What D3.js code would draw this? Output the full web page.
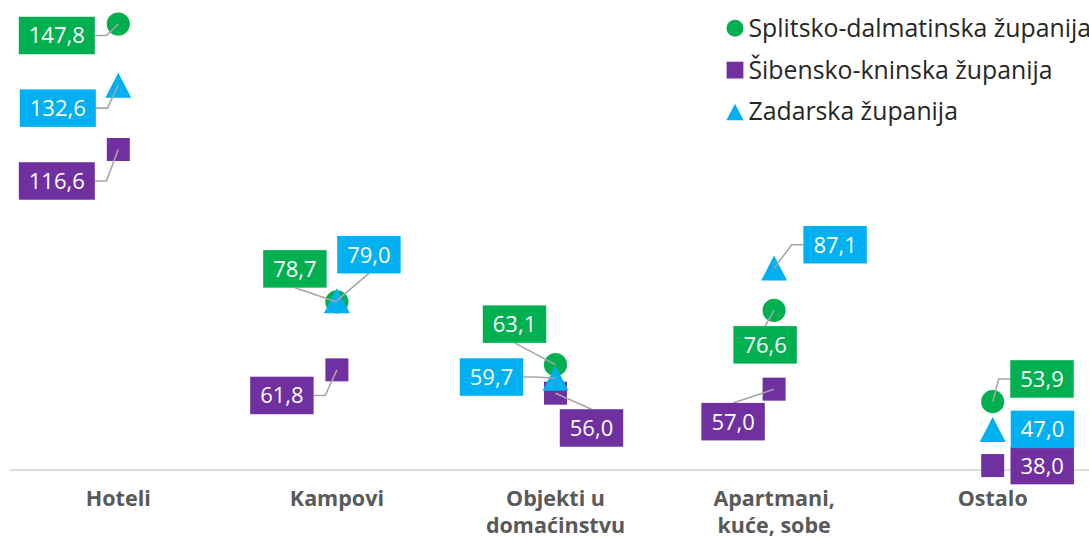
<!DOCTYPE html>
<html><head><meta charset="utf-8">
<script src="https://cdn.jsdelivr.net/npm/d3@7"></script>
<style>
html,body{margin:0;padding:0;background:#fff;overflow:hidden}
svg{display:block;font-family:"Open Sans",sans-serif}
</style>
</head><body>
<svg id="chart" width="1089" height="539"></svg>
<script>
// ---- data ----
const categories = ["Hoteli", "Kampovi", "Objekti u domaćinstvu", "Apartmani, kuće, sobe", "Ostalo"];
const seriesNames = ["Splitsko-dalmatinska županija", "Šibensko-kninska županija", "Zadarska županija"];
const splitValues = [147.8, 78.7, 63.1, 76.6, 53.9];
const sibenikValues = [116.6, 61.8, 56.0, 57.0, 38.0];
const zadarValues = [132.6, 79.0, 59.7, 87.1, 47.0];
const yDomain = [37, 150];

// ---- layout (label box centre offset from marker, leader shown) ----
const splitLabelPos = [[-61.5, 11.5, 1], [-42, -33, 1], [-41, -40.5, 1], [-9, 34.5, 1], [49.3, -22.7, 1]];
const sibenikLabelPos = [[-61.5, 31.5, 1], [-55, 25.6, 1], [36, 34.8, 1], [-41, 32.5, 1], [49.5, 0, 0]];
const zadarLabelPos = [[-60.5, 23, 1], [32, -46, 1], [-64, -1.3, 1], [61, -23.4, 1], [49.8, 0, 0]];

const series = [
  {name: seriesNames[0], values: splitValues, color: "#00B050", shape: "circle", pos: splitLabelPos},
  {name: seriesNames[1], values: sibenikValues, color: "#7030A0", shape: "square", pos: sibenikLabelPos},
  {name: seriesNames[2], values: zadarValues, color: "#00B0F0", shape: "triangle", pos: zadarLabelPos}
];

const W = 1089, H = 539;
const svg = d3.select("#chart");
const x = d3.scaleBand().domain(categories).range([9, 1102]);
const y = d3.scaleLinear().domain(yDomain).range([469.6, 15.15]);
const cx = c => x(c) + x.bandwidth() / 2;
const fmt = v => d3.format(".1f")(v).replace(".", ",");

function shapePath(shape, k) {
  if (shape === "circle") { const r = 11.6 * k; return `M${r},0A${r},${r} 0 1 1 ${-r},0A${r},${r} 0 1 1 ${r},0Z`; }
  if (shape === "square") { const s = 11.5 * k; return `M${-s},${-s}H${s}V${s}H${-s}Z`; }
  const hw = 13 * k, hh = 12.5 * k;
  return `M0,${-hh}L${hw},${hh}L${-hw},${hh}Z`;
}

// ---- axis ----
const axisG = svg.append("g")
  .attr("transform", `translate(0,${y(yDomain[0])})`)
  .call(d3.axisBottom(x).tickSize(0).tickSizeOuter(0));
axisG.select(".domain").attr("stroke", "#d9d9d9").attr("stroke-width", 1.6);
axisG.selectAll(".tick text")
  .attr("font-family", '"Open Sans", sans-serif')
  .attr("font-size", 21.5)
  .attr("font-weight", "bold")
  .attr("fill", "#595959")
  .attr("y", 0).attr("dy", null)
  .each(function(d) {
    const t = d3.select(this);
    const words = d.split(" ");
    t.text(null);
    let lines = [], cur = [];
    let tsp = t.append("tspan");
    words.forEach(w => {
      cur.push(w);
      tsp.text(cur.join(" "));
      if (tsp.node().getComputedTextLength() > 170 && cur.length > 1) {
        cur.pop();
        lines.push(cur.join(" "));
        cur = [w];
      }
    });
    lines.push(cur.join(" "));
    t.text(null);
    lines.forEach((ln, i) => {
      t.append("tspan").attr("x", 0).attr("y", 36.6 + i * 27.3).text(ln);
    });
  });

// ---- markers ----
const pts = [];
series.forEach(s => {
  s.values.forEach((v, i) => {
    pts.push({s, v, i, mx: cx(categories[i]), my: y(v)});
  });
});

const markG = svg.append("g");
series.forEach(s => {
  markG.selectAll(null).data(pts.filter(p => p.s === s)).join("path")
    .attr("d", shapePath(s.shape, 1))
    .attr("transform", p => `translate(${p.mx},${p.my})`)
    .attr("fill", s.color);
});

// ---- labels (measure first) ----
const labG = svg.append("g");
const lineG = svg.insert("g", () => labG.node());
pts.forEach(p => {
  const [dx, dy, lead] = p.s.pos[p.i];
  const g = labG.append("g");
  const t = g.append("text")
    .attr("font-size", 22)
    .attr("fill", "#fff")
    .attr("text-anchor", "middle")
    .text(fmt(p.v));
  const tw = t.node().getComputedTextLength();
  const bw = tw + 20, bh = 37.5;
  const bx = p.mx + dx, by = p.my + dy;
  g.insert("rect", "text")
    .attr("x", bx - bw / 2).attr("y", by - bh / 2)
    .attr("width", bw).attr("height", bh)
    .attr("fill", p.s.color);
  t.attr("x", bx).attr("y", by + 8);

  if (lead) {
    const x0 = bx - bw / 2, x1 = bx + bw / 2, y0 = by - bh / 2, y1 = by + bh / 2;
    const hgap = Math.max(x0 - p.mx, p.mx - x1, 0);
    const vgap = Math.max(y0 - p.my, p.my - y1, 0);
    let d;
    if (hgap >= vgap) {
      const ax = p.mx < x0 ? x0 : x1;
      const ex = p.mx < x0 ? ax - 11.6 : ax + 11.6;
      d = `M${ax},${by}L${ex},${by}L${p.mx},${p.my}`;
    } else {
      const ay = p.my < y0 ? y0 : y1;
      d = `M${bx},${ay}L${p.mx},${p.my}`;
    }
    lineG.append("path").attr("d", d).attr("fill", "none")
      .attr("stroke", "#a6a6a6").attr("stroke-width", 1.6);
  }
});

// ---- legend ----
const leg = svg.append("g");
series.forEach((s, i) => {
  const ry = 28.3 + i * 41.8;
  const k = s.shape === "triangle" ? 0.66 : 0.73;
  leg.append("path").attr("d", shapePath(s.shape, k))
    .attr("transform", `translate(735,${ry})`).attr("fill", s.color);
  leg.append("text").attr("x", 748.5).attr("y", ry + 8.4)
    .attr("font-size", 24.8).attr("fill", "#262626").text(s.name);
});
</script>
</body></html>
